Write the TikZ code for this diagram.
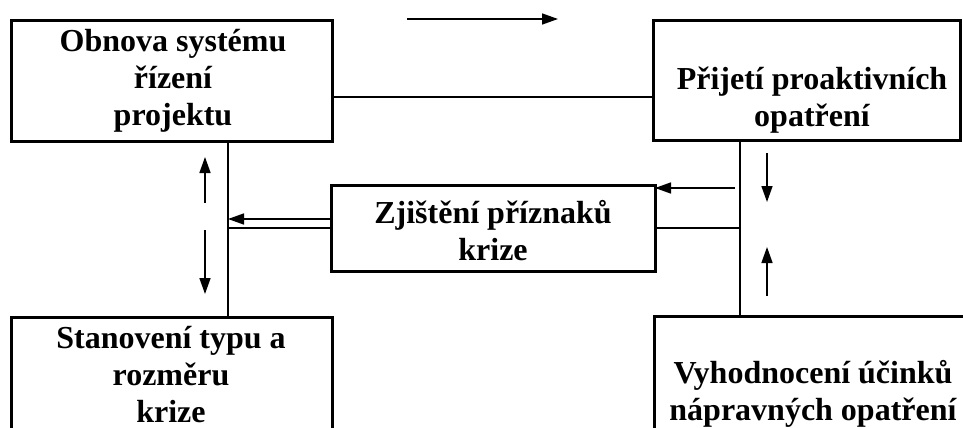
\documentclass[tikz,border=0pt]{standalone}
\usepackage{fontspec}
\setmainfont{Liberation Serif}
\usetikzlibrary{arrows.meta}
\begin{document}
\begin{tikzpicture}[x=1pt,y=-1pt,
  box/.style={draw, line width=3pt, inner sep=0pt, outer sep=0pt},
  lbl/.style={font=\fontsize{32}{37}\selectfont\bfseries, align=center, inner sep=0pt, anchor=base},
  conn/.style={line width=2pt},
  arr/.style={line width=1.5pt, -{Triangle[length=16pt,width=11pt]}}]
\useasboundingbox (0,0) rectangle (963,428);
\clip (0,0) rectangle (963,428);
% boxes
\node[box, minimum width=321pt, minimum height=120pt] (A) at (171.5,81) {};
\node[box, minimum width=307.5pt, minimum height=119pt] (B) at (806.75,80.5) {};
\node[box, minimum width=324pt, minimum height=86pt] (C) at (493,228) {};
\node[box, minimum width=321pt, minimum height=143pt] (D) at (171.5,388.5) {};
\node[box, minimum width=322pt, minimum height=144pt] (E) at (815,388) {};
% labels (anchor at baseline of the last line)
\node[lbl] (tA) at (173,125) {Obnova systému\\řízení\\projektu};
\node[lbl] (tB) at (812,126) {Přijetí proaktivních\\opatření};
\node[lbl] (tC) at (493,260) {Zjištění příznaků\\krize};
\node[lbl] (tD) at (171,422) {Stanovení typu a\\rozměru\\krize};
\node[lbl] (tE) at (813,420) {Vyhodnocení účinků\\nápravných opatření};
% connectors
\coordinate (ab) at ([yshift=-16pt]A.east);
\draw[conn] (ab) -- (ab -| B.west);
\coordinate (lv) at ([xshift=56.5pt]A.south);
\draw[conn] (lv) -- (lv |- D.north);
\draw[conn] (C.west) -- (C.west -| lv);
\coordinate (cl) at ([yshift=9pt]C.west);
\draw[arr] (cl) -- (cl -| lv);
\coordinate (rv) at ([xshift=-66.75pt]B.south);
\draw[conn] (rv) -- (rv |- E.north);
\draw[conn] (C.east) -- (C.east -| rv);
\coordinate (crs) at (735,188);
\draw[arr] (crs) -- (crs -| C.east);
% free arrows
\coordinate (t1) at (407,19);
\coordinate (t2) at (558,19);
\draw[arr] (t1) -- (t2);
\coordinate (lu1) at (205,203);
\coordinate (lu2) at (205,157);
\draw[arr] (lu1) -- (lu2);
\coordinate (ld1) at (205,230);
\coordinate (ld2) at (205,294);
\draw[arr] (ld1) -- (ld2);
\coordinate (rd1) at (767,153);
\coordinate (rd2) at (767,202);
\draw[arr] (rd1) -- (rd2);
\coordinate (ru1) at (767,296);
\coordinate (ru2) at (767,247);
\draw[arr] (ru1) -- (ru2);
\end{tikzpicture}
\end{document}
